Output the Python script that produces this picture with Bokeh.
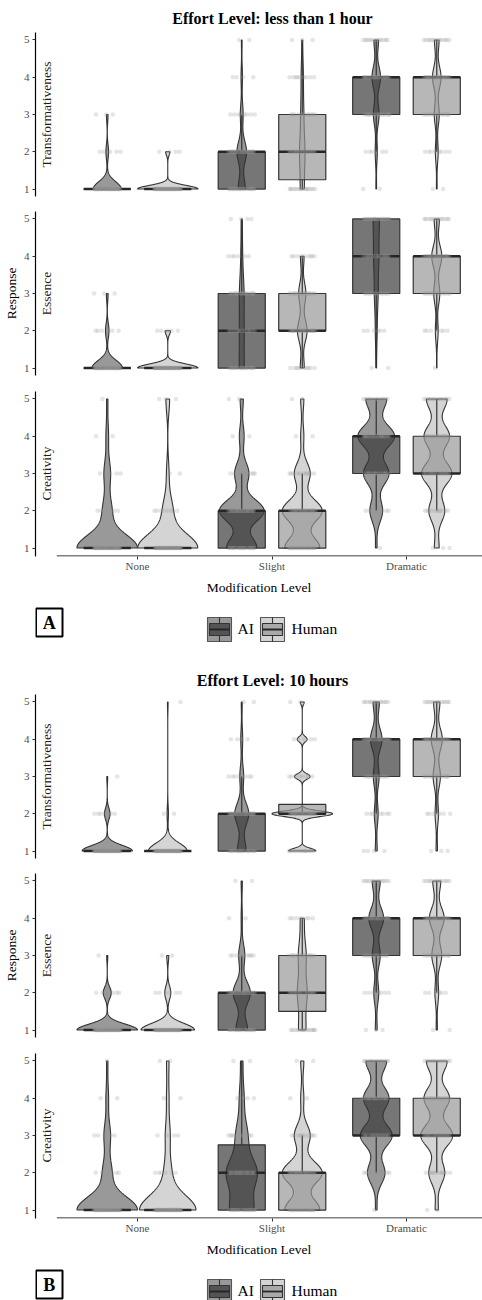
import numpy as np
from bokeh.plotting import figure
from bokeh.layouts import column
from bokeh.models import Range1d, FixedTicker
from bokeh.core.properties import value
from bokeh.embed import file_html
from bokeh.resources import INLINE

# ---------------- data ----------------
modifications = ["None", "Slight", "Dramatic"]
sources = ["AI", "Human"]
measures = ["Transformativeness", "Essence", "Creativity"]
effort_titles = ["Effort Level: less than 1 hour", "Effort Level: 10 hours"]
panel_tags = ["A", "B"]
response_levels = [1, 2, 3, 4, 5]

# number of responses at levels 1..5; rows = None, Slight, Dramatic
lt1h_transformativeness_ai = [[53, 5, 3, 0, 0], [20, 27, 8, 4, 2], [2, 6, 16, 24, 13]]
lt1h_transformativeness_human = [[57, 4, 0, 0, 0], [16, 22, 12, 9, 3], [2, 8, 14, 24, 13]]
lt1h_essence_ai = [[52, 6, 3, 0, 0], [18, 16, 17, 6, 4], [2, 6, 13, 18, 22]]
lt1h_essence_human = [[56, 5, 0, 0, 0], [10, 24, 18, 9, 0], [1, 7, 15, 25, 13]]
lt1h_creativity_ai = [[46, 7, 5, 2, 1], [19, 28, 9, 3, 2], [1, 8, 16, 23, 13]]
lt1h_creativity_human = [[48, 8, 2, 0, 3], [22, 25, 10, 2, 2], [3, 10, 19, 16, 13]]

h10_transformativeness_ai = [[54, 6, 1, 0, 0], [18, 29, 8, 4, 2], [4, 8, 12, 24, 13]]
h10_transformativeness_human = [[58, 2, 0, 0, 1], [14, 31, 8, 5, 2], [3, 7, 15, 23, 13]]
h10_essence_ai = [[53, 7, 1, 0, 0], [19, 28, 10, 2, 2], [3, 8, 13, 24, 13]]
h10_essence_human = [[53, 6, 2, 0, 0], [15, 20, 16, 8, 0], [2, 6, 16, 24, 13]]
h10_creativity_ai = [[46, 7, 5, 2, 1], [20, 26, 10, 4, 2], [1, 11, 20, 16, 13]]
h10_creativity_human = [[47, 6, 4, 2, 2], [22, 25, 10, 2, 2], [2, 10, 20, 16, 13]]

panels = [
    [(lt1h_transformativeness_ai, lt1h_transformativeness_human),
     (lt1h_essence_ai, lt1h_essence_human),
     (lt1h_creativity_ai, lt1h_creativity_human)],
    [(h10_transformativeness_ai, h10_transformativeness_human),
     (h10_essence_ai, h10_essence_human),
     (h10_creativity_ai, h10_creativity_human)],
]

# ---------------- style ----------------
SERIF = "Liberation Serif"
violin_fill = {"AI": "#999999", "Human": "#d4d4d4"}
box_fill = {"AI": "#333333", "Human": "#949494"}
BOX_ALPHA = 0.67
LINE = "#333333"

W = 482
L = 35                      # frame starts at page x = L
PX = 134.5                  # pixels per category unit
XS = 1 - (137 - L) / PX
XE = 3 + (W - 406) / PX
PY = 164 / 4.4
EPS = 1.0 / PY
DODGE = 0.225
BOX_HALF = 0.175
VIOLIN_HALF = 0.225
JITTER = 0.1


def values_of(counts):
    return np.repeat(np.array(response_levels, dtype=float), counts)


def bw_nrd0(x):
    hi = np.std(x, ddof=1)
    iqr = np.percentile(x, 75) - np.percentile(x, 25)
    lo = min(hi, iqr / 1.34)
    if not lo:
        lo = hi or abs(x[0]) or 1.0
    return 0.9 * lo * len(x) ** (-0.2)


def density(counts):
    x = values_of(counts)
    bw = bw_nrd0(x)
    grid = np.linspace(x.min(), x.max(), 512)
    d = np.zeros_like(grid)
    for lev, c in zip(response_levels, counts):
        if c:
            d += c * np.exp(-0.5 * ((grid - lev) / bw) ** 2)
    d /= len(x) * bw * np.sqrt(2 * np.pi)
    return grid, d


def box_stats(counts):
    x = values_of(counts)
    q1, med, q3 = np.percentile(x, [25, 50, 75])
    iqr = q3 - q1
    lo = x[x >= q1 - 1.5 * iqr].min()
    hi = x[x <= q3 + 1.5 * iqr].max()
    return q1, med, q3, lo, hi


def style_common(p):
    p.outline_line_color = None
    p.xgrid.visible = False
    p.ygrid.visible = False
    p.background_fill_color = "white"
    p.border_fill_color = "white"


def plain_fig(height):
    # frame spans page x = L .. W, so data x equals page x
    p = figure(width=W, height=height, x_range=Range1d(L, W), y_range=Range1d(height, 0),
               output_backend="svg", toolbar_location=None,
               x_axis_location=None, y_axis_location=None,
               min_border_left=L, min_border_right=0, min_border_top=0,
               min_border_bottom=0)
    style_common(p)
    return p


def make_title(panel_i, height):
    p = plain_fig(height)
    p.text(x=[272], y=[18], text=[effort_titles[panel_i]], text_align="center",
           text_baseline="middle", text_font=value(SERIF), text_font_size="16px",
           text_font_style="bold", text_color="black")
    return p


def make_facet(panel_i, meas_i, pos):
    counts_ai, counts_h = panels[panel_i][meas_i]
    top = 0 if pos == "top" else 8
    bottom = 43 if pos == "bottom" else (7 if pos == "top" else 8)
    frame_h = 165 if pos == "bottom" else 164
    y0 = 0.8 - EPS if pos == "bottom" else 0.8
    p = figure(width=W, height=top + frame_h + bottom,
               x_range=Range1d(XS, XE), y_range=Range1d(y0, 5.2),
               output_backend="svg", toolbar_location=None,
               x_axis_location="below" if pos == "bottom" else None,
               min_border_left=L, min_border_right=0,
               min_border_top=top, min_border_bottom=bottom)
    style_common(p)

    ya = p.yaxis[0]
    ya.ticker = FixedTicker(ticks=response_levels)
    ya.minor_tick_line_color = None
    ya.major_tick_in = 0
    ya.major_tick_out = 3
    ya.major_tick_line_color = LINE
    ya.axis_line_color = "black"
    ya.axis_line_width = 1.2
    ya.major_label_text_font = SERIF
    ya.major_label_text_font_size = "11px"
    ya.major_label_text_color = "#4d4d4d"
    ya.major_label_standoff = 3
    if pos == "mid":
        ya.axis_label = "Response"
        ya.axis_label_text_font = SERIF
        ya.axis_label_text_font_size = "13.5px"
        ya.axis_label_text_font_style = "normal"
        ya.axis_label_text_color = "black"
        ya.axis_label_standoff = 2

    if pos == "bottom":
        xa = p.xaxis[0]
        xa.ticker = FixedTicker(ticks=[1, 2, 3])
        xa.major_label_overrides = {i + 1: m for i, m in enumerate(modifications)}
        xa.minor_tick_line_color = None
        xa.major_tick_in = 0
        xa.major_tick_out = 3
        xa.major_tick_line_color = LINE
        xa.axis_line_color = None
        xa.major_label_text_font = SERIF
        xa.major_label_text_font_size = "11px"
        xa.major_label_text_color = "#4d4d4d"
        xa.major_label_standoff = 0
        xa.axis_label = "Modification Level"
        xa.axis_label_text_font = SERIF
        xa.axis_label_text_font_size = "13.5px"
        xa.axis_label_text_font_style = "normal"
        xa.axis_label_text_color = "black"
        xa.axis_label_standoff = 5
        # x axis line starts at the panel edge (like the reference)
        p.segment(x0=[0.4], y0=[0.8 - EPS / 2], x1=[3.7], y1=[0.8 - EPS / 2],
                  line_color="black", line_width=1.2)

    # densities of the facet, scaled by the facet maximum (area scaling)
    dens = {}
    for s_i, cnts in enumerate((counts_ai, counts_h)):
        for m_i in range(3):
            dens[(s_i, m_i)] = density(cnts[m_i])
    dmax = max(d.max() for _, d in dens.values())

    # violins
    for (s_i, m_i), (grid, d) in dens.items():
        cx = m_i + 1 + (-DODGE if s_i == 0 else DODGE)
        hw = VIOLIN_HALF * d / dmax
        xs = np.concatenate([cx - hw, (cx + hw)[::-1]])
        ys = np.concatenate([grid, grid[::-1]])
        p.patch(xs, ys, fill_color=violin_fill[sources[s_i]], line_color=LINE,
                line_width=1.1)

    # boxes
    for s_i, cnts in enumerate((counts_ai, counts_h)):
        src = sources[s_i]
        for m_i in range(3):
            cx = m_i + 1 + (-DODGE if s_i == 0 else DODGE)
            q1, med, q3, lo, hi = box_stats(cnts[m_i])
            p.segment(x0=[cx, cx], y0=[q3, q1], x1=[cx, cx], y1=[hi, lo],
                      line_color=LINE, line_width=1.2)
            p.quad(left=[cx - BOX_HALF], right=[cx + BOX_HALF], bottom=[q1], top=[q3],
                   fill_color=box_fill[src], fill_alpha=BOX_ALPHA,
                   line_color=LINE, line_width=1.2)
            p.segment(x0=[cx - BOX_HALF], y0=[med], x1=[cx + BOX_HALF], y1=[med],
                      line_color="#262626", line_width=2.6)

    # jittered responses (deterministic horizontal spread)
    px, py = [], []
    k = 0
    for s_i, cnts in enumerate((counts_ai, counts_h)):
        for m_i in range(3):
            cx = m_i + 1 + (-DODGE if s_i == 0 else DODGE)
            for lev, c in zip(response_levels, cnts[m_i]):
                for _ in range(c):
                    k += 1
                    frac = (k * 0.6180339887 + 0.31 * meas_i + 0.17 * panel_i) % 1.0
                    px.append(cx + (frac - 0.5) * 2 * JITTER)
                    py.append(lev)
    p.scatter(px, py, size=4.5, fill_color="#999999", fill_alpha=0.25, line_color=None)

    # facet strip label
    p.text(x=[XS + 11 / PX], y=[3], text=[measures[meas_i]], angle=np.pi / 2,
           text_align="center", text_baseline="middle",
           text_font=value(SERIF), text_font_size="13.5px", text_color="#1a1a1a")
    return p


def make_legend(panel_i, height):
    p = plain_fig(height)
    # panel tag
    p.quad(left=[35.5], right=[62], top=[9], bottom=[37], fill_color=None,
           line_color="black", line_width=2)
    p.text(x=[48.75], y=[23.5], text=[panel_tags[panel_i]],
           text_align="center", text_baseline="middle", text_font=value(SERIF),
           text_font_size="18px", text_font_style="bold", text_color="black")
    # legend keys
    key_x = [207, 260]
    label_x = [237, 291]
    kt = 18
    for s_i, src in enumerate(sources):
        x0 = key_x[s_i]
        p.quad(left=[x0], right=[x0 + 24], top=[kt], bottom=[kt + 24],
               fill_color=violin_fill[src], line_color="#555555", line_width=1.1)
        p.segment(x0=[x0 + 12, x0 + 12], y0=[kt, kt + 18],
                  x1=[x0 + 12, x0 + 12], y1=[kt + 6, kt + 24],
                  line_color=LINE, line_width=1.1)
        p.quad(left=[x0 + 2], right=[x0 + 22], top=[kt + 6], bottom=[kt + 18],
               fill_color=box_fill[src], fill_alpha=BOX_ALPHA, line_color=LINE,
               line_width=1.1)
        p.segment(x0=[x0 + 2], y0=[kt + 12], x1=[x0 + 22], y1=[kt + 12],
                  line_color="#262626", line_width=1.8)
        p.text(x=[label_x[s_i]], y=[29], text=[src], text_align="left",
               text_baseline="middle", text_font=value(SERIF), text_font_size="15.5px",
               text_color="black")
    return p


figs = []
figs.append(make_title(0, 32))
figs.append(make_facet(0, 0, "top"))
figs.append(make_facet(0, 1, "mid"))
figs.append(make_facet(0, 2, "bottom"))
figs.append(make_legend(0, 63))
figs.append(make_title(1, 32))
figs.append(make_facet(1, 0, "top"))
figs.append(make_facet(1, 1, "mid"))
figs.append(make_facet(1, 2, "bottom"))
figs.append(make_legend(1, 39))

layout = column(*figs, spacing=0)
open("out.html", "w").write(file_html(layout, INLINE))
